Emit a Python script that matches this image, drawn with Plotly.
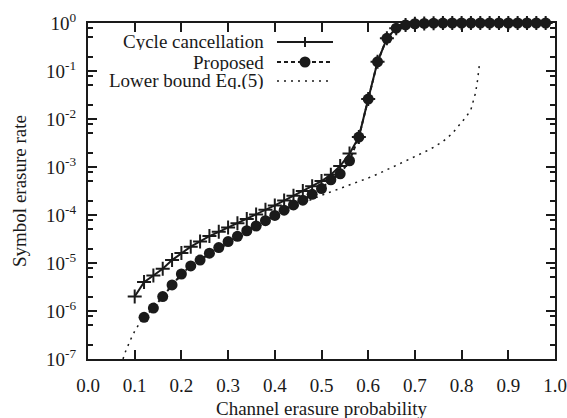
import plotly.graph_objects as go

# ---------------- data ----------------
cycle_x = [0.10, 0.12, 0.14, 0.16, 0.18, 0.20, 0.22, 0.24, 0.26, 0.28, 0.30, 0.32, 0.34, 0.36,
           0.38, 0.40, 0.42, 0.44, 0.46, 0.48, 0.50, 0.52, 0.54, 0.56, 0.58, 0.60, 0.62, 0.64,
           0.66, 0.68, 0.70, 0.72, 0.74, 0.76, 0.78, 0.80, 0.82, 0.84, 0.86, 0.88, 0.90, 0.92,
           0.94, 0.96, 0.98]
cycle_y = [2.0e-6, 4.0e-6, 5.5e-6, 7.6e-6, 1.15e-5, 1.62e-5, 2.19e-5, 2.82e-5, 3.63e-5, 4.47e-5,
           5.5e-5, 6.76e-5, 8.3e-5, 1.02e-4, 1.29e-4, 1.58e-4, 2.0e-4, 2.51e-4, 3.16e-4, 3.98e-4,
           5.1e-4, 6.9e-4, 1.05e-3, 1.9e-3, 4.2e-3, 2.6e-2, 0.155, 0.48, 0.78, 0.91, 0.965, 0.98,
           0.99, 0.995, 1.0, 1.0, 1.0, 1.0, 1.0, 1.0, 1.0, 1.0, 1.0, 1.0, 1.0]

prop_x = [0.12, 0.14, 0.16, 0.18, 0.20, 0.22, 0.24, 0.26, 0.28, 0.30, 0.32, 0.34, 0.36, 0.38,
          0.40, 0.42, 0.44, 0.46, 0.48, 0.50, 0.52, 0.54, 0.56, 0.58, 0.60, 0.62, 0.64, 0.66,
          0.68, 0.70, 0.72, 0.74, 0.76, 0.78, 0.80, 0.82, 0.84, 0.86, 0.88, 0.90, 0.92, 0.94,
          0.96, 0.98]
prop_y = [7.4e-7, 1.15e-6, 2.0e-6, 3.5e-6, 5.9e-6, 8.7e-6, 1.15e-5, 1.6e-5, 2.1e-5, 2.8e-5,
          3.6e-5, 4.7e-5, 5.9e-5, 7.6e-5, 9.8e-5, 1.26e-4, 1.62e-4, 2.04e-4, 2.7e-4, 3.55e-4,
          5.4e-4, 7.2e-4, 1.35e-3, 4.2e-3, 2.6e-2, 0.155, 0.48, 0.78, 0.91, 0.965, 0.98, 0.99,
          0.995, 1.0, 1.0, 1.0, 1.0, 1.0, 1.0, 1.0, 1.0, 1.0, 1.0, 1.0]

lb_x = [0.075, 0.08, 0.09, 0.10, 0.11, 0.12, 0.14, 0.16, 0.18, 0.20, 0.22, 0.24, 0.26, 0.28,
        0.30, 0.32, 0.34, 0.36, 0.38, 0.40, 0.42, 0.44, 0.46, 0.48, 0.50, 0.52, 0.54, 0.56,
        0.58, 0.60, 0.62, 0.64, 0.66, 0.68, 0.70, 0.72, 0.74, 0.76, 0.78, 0.80, 0.81, 0.82,
        0.825, 0.83, 0.834, 0.838]
lb_y = [1.0e-7, 1.4e-7, 2.4e-7, 3.8e-7, 5.5e-7, 7.6e-7, 1.35e-6, 2.24e-6, 3.55e-6, 5.4e-6,
        7.8e-6, 1.1e-5, 1.5e-5, 1.95e-5, 2.5e-5, 3.3e-5, 4.3e-5, 5.4e-5, 6.8e-5, 9.1e-5,
        1.15e-4, 1.41e-4, 1.78e-4, 2.14e-4, 2.57e-4, 3.02e-4, 3.55e-4, 4.17e-4, 4.9e-4,
        5.9e-4, 7.1e-4, 8.7e-4, 1.1e-3, 1.35e-3, 1.66e-3, 2.04e-3, 2.57e-3, 3.4e-3, 5.0e-3,
        8.3e-3, 1.12e-2, 1.58e-2, 2.24e-2, 3.55e-2, 6.3e-2, 0.132]

x_ticks = [0.0, 0.1, 0.2, 0.3, 0.4, 0.5, 0.6, 0.7, 0.8, 0.9, 1.0]
y_ticks = [1e-7, 1e-6, 1e-5, 1e-4, 1e-3, 1e-2, 1e-1, 1.0]
y_ticktext = ["10<sup>-7</sup>", "10<sup>-6</sup>", "10<sup>-5</sup>", "10<sup>-4</sup>",
              "10<sup>-3</sup>", "10<sup>-2</sup>", "10<sup>-1</sup>", "10<sup>0</sup>"]
y_minor = [m * 10.0 ** e for e in range(-7, 0) for m in (2, 5, 8)]

legend_labels = ["Cycle cancellation", "Proposed", "Lower bound Eq.(5)"]

FONT = "Liberation Serif"
FS = 19

fig = go.Figure()
fig.add_trace(go.Scatter(x=cycle_x, y=cycle_y, mode="lines+markers",
                         line=dict(color="#1a1a1a", width=2),
                         marker=dict(symbol="cross-thin", size=10,
                                     line=dict(color="#1a1a1a", width=2)),
                         cliponaxis=False, showlegend=False))
fig.add_trace(go.Scatter(x=prop_x, y=prop_y, mode="lines+markers",
                         line=dict(color="#1a1a1a", width=2, dash="4px,3px"),
                         marker=dict(symbol="circle", size=11, color="#1a1a1a"),
                         cliponaxis=False, showlegend=False))
fig.add_trace(go.Scatter(x=lb_x, y=lb_y, mode="lines",
                         line=dict(color="#1a1a1a", width=1.5, dash="2px,5px"),
                         showlegend=False))

# manual gnuplot-style legend (text right-aligned, sample on the right)
PW, PH = 467.0, 336.0
rows = [0.9435, 0.8839, 0.8274]
tx, lx0, lx1, mx = 0.379, 0.4047, 0.5246, 0.4647
for i, lab in enumerate(legend_labels):
    fig.add_annotation(x=tx, y=rows[i], xref="paper", yref="paper", text=lab,
                       showarrow=False, xanchor="right", yanchor="middle",
                       height=17, borderpad=0, valign="middle",
                       font=dict(family=FONT, size=FS, color="#1a1a1a"))
fig.add_shape(type="line", xref="paper", yref="paper", x0=lx0, x1=lx1, y0=rows[0], y1=rows[0],
              line=dict(color="#1a1a1a", width=2))
fig.add_shape(type="line", xref="paper", yref="paper", x0=mx - 5 / PW, x1=mx + 5 / PW,
              y0=rows[0], y1=rows[0], line=dict(color="#1a1a1a", width=2))
fig.add_shape(type="line", xref="paper", yref="paper", x0=mx, x1=mx,
              y0=rows[0] - 5 / PH, y1=rows[0] + 5 / PH, line=dict(color="#1a1a1a", width=2))
fig.add_shape(type="line", xref="paper", yref="paper", x0=lx0, x1=lx1, y0=rows[1], y1=rows[1],
              line=dict(color="#1a1a1a", width=2, dash="4px,3px"))
fig.add_shape(type="circle", xref="paper", yref="paper", x0=mx - 5.5 / PW, x1=mx + 5.5 / PW,
              y0=rows[1] - 5.5 / PH, y1=rows[1] + 5.5 / PH,
              fillcolor="#1a1a1a", line=dict(color="#1a1a1a", width=0))
fig.add_shape(type="line", xref="paper", yref="paper", x0=lx0, x1=lx1, y0=rows[2], y1=rows[2],
              line=dict(color="#1a1a1a", width=1.5, dash="2px,5px"))

# axis titles
fig.add_annotation(x=0.5, y=-0.1488, xref="paper", yref="paper",
                   text="Channel erasure probability", showarrow=False,
                   xanchor="center", yanchor="middle",
                   font=dict(family=FONT, size=FS, color="#1a1a1a"))
fig.add_annotation(x=-0.1478, y=0.5, xref="paper", yref="paper",
                   text="Symbol erasure rate", showarrow=False, textangle=-90,
                   xanchor="center", yanchor="middle",
                   font=dict(family=FONT, size=FS, color="#1a1a1a"))

fig.update_layout(
    width=567, height=418,
    margin=dict(l=88, r=12, t=23, b=59, autoexpand=False),
    paper_bgcolor="white", plot_bgcolor="white",
    font=dict(family=FONT, size=FS, color="#1a1a1a"),
    showlegend=False,
)
fig.update_xaxes(range=[0, 1], tickmode="array", tickvals=x_ticks,
                 ticktext=[f"{v:.1f}" for v in x_ticks], automargin=False,
                 ticks="inside", ticklen=9, tickwidth=1.5, tickcolor="#1a1a1a",
                 showline=True, linewidth=2, linecolor="#1a1a1a", mirror="ticks",
                 showgrid=False, zeroline=False, ticklabelstandoff=8)
fig.update_yaxes(type="log", range=[-7, 0], tickmode="array", tickvals=y_ticks,
                 ticktext=y_ticktext, automargin=False,
                 ticks="inside", ticklen=9, tickwidth=1.5, tickcolor="#1a1a1a",
                 showline=True, linewidth=2, linecolor="#1a1a1a", mirror="ticks",
                 showgrid=False, zeroline=False, ticklabelstandoff=6,
                 minor=dict(tickmode="array", tickvals=y_minor, ticks="inside", ticklen=5,
                            tickwidth=1.5, tickcolor="#1a1a1a", showgrid=False))

fig.write_html("out.html")
